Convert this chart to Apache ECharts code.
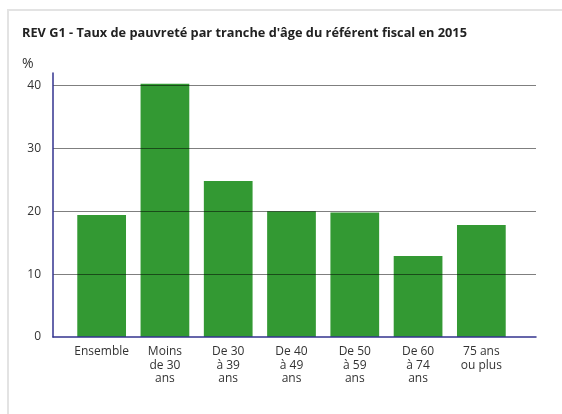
<!DOCTYPE html>
<html>
<head>
<meta charset="utf-8">
<script src="https://cdn.jsdelivr.net/npm/echarts@6/dist/echarts.min.js"></script>
<style>
  html, body { margin: 0; padding: 0; background: #fff; }
  #frame { position: absolute; left: 7px; top: 9px; width: 600px; height: 500px; border: 2px solid #e3e3e3; box-sizing: border-box; }
  #chart { position: absolute; left: 0; top: 0; width: 562px; height: 414px; }
</style>
</head>
<body>
<div id="frame"></div>
<div id="chart"></div>
<script>
// categories (age bracket of the tax referent)
const categories = ['Ensemble', 'Moins\nde 30\nans', 'De 30\nà 39\nans', 'De 40\nà 49\nans', 'De 50\nà 59\nans', 'De 60\nà 74\nans', '75 ans\nou plus'];
// poverty rate, %
const rates = [19.4, 40.3, 24.8, 20.0, 19.8, 12.9, 17.8];

const font = '"Open Sans", "Noto Sans", sans-serif';
const axisColor = '#33338f';

const chart = echarts.init(document.getElementById('chart'));
chart.setOption({
  animation: false,
  textStyle: { fontFamily: font },
  title: {
    text: "REV G1 - Taux de pauvreté par tranche d'âge du référent fiscal en 2015",
    left: 22, top: 27, padding: 0,
    textStyle: { fontSize: 12.75, fontWeight: 'bold', color: '#222', fontFamily: font }
  },
  graphic: [{
    type: 'text', left: 22, top: 57,
    style: { text: '%', fontSize: 14, fill: '#333', fontFamily: font }
  }],
  grid: [
    // frame grid: axis lines + gridlines
    { left: 53, right: 26, top: 73, bottom: 77 },
    // bars grid, inset like the original
    { left: 70, right: 49, top: 73, bottom: 77 }
  ],
  xAxis: [
    {
      gridIndex: 0, type: 'value', min: 0, max: 1,
      axisLine: { show: true, lineStyle: { color: axisColor, width: 1.5 } },
      axisTick: { show: false }, axisLabel: { show: false }, splitLine: { show: false },
      z: 3
    },
    {
      gridIndex: 1, type: 'category', data: categories,
      axisLine: { show: false }, axisTick: { show: false },
      axisLabel: { color: '#333', fontSize: 12, lineHeight: 13.5, margin: 8, interval: 0 }
    }
  ],
  yAxis: [
    {
      gridIndex: 0, type: 'value', min: 0, max: 42, interval: 10,
      axisLine: { show: true, lineStyle: { color: axisColor, width: 1.5 } },
      axisTick: { show: false },
      axisLabel: { color: '#333', fontSize: 12, margin: 12, showMaxLabel: false },
      splitLine: { show: true, showMinLine: false, showMaxLine: false, lineStyle: { color: 'rgba(0,0,0,0.5)', width: 1 } },
      z: 3
    },
    {
      gridIndex: 1, type: 'value', min: 0, max: 42, interval: 10, show: false,
      splitLine: { show: false }
    }
  ],
  series: [{
    type: 'bar',
    xAxisIndex: 1, yAxisIndex: 1,
    data: rates,
    barCategoryGap: '23%',
    itemStyle: { color: '#339933' },
    z: 2
  }]
});
</script>
</body>
</html>
